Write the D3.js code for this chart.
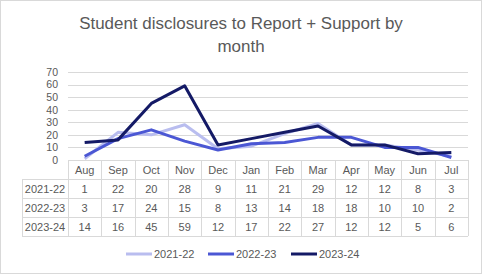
<!DOCTYPE html>
<html>
<head>
<meta charset="utf-8">
<script src="https://cdn.jsdelivr.net/npm/d3@7"></script>
<style>
  body { margin: 0; background: #fff; }
  svg { display: block; font-family: 'Liberation Sans', Arial, sans-serif; }
</style>
</head>
<body>
<div id="chart"></div>
<script>
let months = ['Aug', 'Sep', 'Oct', 'Nov', 'Dec', 'Jan', 'Feb', 'Mar', 'Apr', 'May', 'Jun', 'Jul'];
let seriesNames = ['2021-22', '2022-23', '2023-24'];
let values2122 = [1, 22, 20, 28, 9, 11, 21, 29, 12, 12, 8, 3];
let values2223 = [3, 17, 24, 15, 8, 13, 14, 18, 18, 10, 10, 2];
let values2324 = [14, 16, 45, 59, 12, 17, 22, 27, 12, 12, 5, 6];
let yTicks = [0, 10, 20, 30, 40, 50, 60, 70];

let colors = ['#b9bdef', '#4b57d4', '#141a66'];
let series = [values2122, values2223, values2324].map(function(v, i) {
    return { name: seriesNames[i], values: v, color: colors[i] };
});

let W = 482, H = 274;
let plotLeft = 68, plotRight = 468, plotTop = 72, plotBottom = 160;
let rowH = 19, labelLeft = 22;
let gridColor = '#d9d9d9', textColor = '#595959';

let svg = d3.select('#chart')
    .append('svg')
        .attr('width', W)
        .attr('height', H);

svg.append('rect')
    .attr('x', 0.5).attr('y', 0.5)
    .attr('width', W - 1).attr('height', H - 1)
    .attr('fill', '#fff')
    .attr('stroke', gridColor);

// title
let title = svg.append('text')
    .attr('text-anchor', 'middle')
    .attr('fill', textColor)
    .style('font-size', '18px');
title.append('tspan').attr('x', 241).attr('y', 29).text('Student disclosures to Report + Support by');
title.append('tspan').attr('x', 241).attr('y', 52).text('month');
// fit title width to reference
let tw = title.select('tspan').node().getComputedTextLength();
title.style('font-size', (18 * 324 / tw) + 'px');

let x = d3.scaleBand()
    .domain(months)
    .range([plotLeft, plotRight]);

let y = d3.scaleLinear()
    .domain([0, 70])
    .range([plotBottom, plotTop]);

// gridlines
svg.append('g')
    .selectAll('line')
    .data(yTicks)
    .enter()
    .append('line')
        .attr('x1', plotLeft).attr('x2', plotRight)
        .attr('y1', d => Math.round(y(d)) + 0.5)
        .attr('y2', d => Math.round(y(d)) + 0.5)
        .attr('stroke', gridColor);

let yAxis = d3.axisLeft(y)
    .tickValues(yTicks)
    .tickSize(0)
    .tickPadding(10);

svg.append('g')
    .attr('transform', 'translate(' + plotLeft + ',0)')
    .call(yAxis)
    .call(g => g.select('.domain').remove())
    .selectAll('text')
        .attr('fill', textColor)
        .style('font-size', '10.5px')
        .style('font-family', "'Liberation Sans', Arial, sans-serif");

// lines
let line = d3.line()
    .x((d, i) => x(months[i]) + x.bandwidth() / 2)
    .y(d => y(d));

svg.append('g')
    .selectAll('path')
    .data(series)
    .enter()
    .append('path')
        .attr('d', d => line(d.values))
        .attr('fill', 'none')
        .attr('stroke', d => d.color)
        .attr('stroke-width', 3)
        .attr('stroke-linejoin', 'round');

// data table
let table = svg.append('g');
let tableBottom = plotBottom + rowH * 4;

table.selectAll('.vline')
    .data(d3.range(months.length + 1))
    .enter()
    .append('line')
        .attr('x1', i => Math.round(plotLeft + i * x.bandwidth()) + 0.5)
        .attr('x2', i => Math.round(plotLeft + i * x.bandwidth()) + 0.5)
        .attr('y1', plotBottom)
        .attr('y2', tableBottom)
        .attr('stroke', gridColor);

table.append('line')
    .attr('x1', labelLeft + 0.5).attr('x2', labelLeft + 0.5)
    .attr('y1', plotBottom + rowH).attr('y2', tableBottom)
    .attr('stroke', gridColor);

table.selectAll('.hline')
    .data([1, 2, 3, 4])
    .enter()
    .append('line')
        .attr('x1', labelLeft).attr('x2', plotRight)
        .attr('y1', r => plotBottom + r * rowH + 0.5)
        .attr('y2', r => plotBottom + r * rowH + 0.5)
        .attr('stroke', gridColor);

table.selectAll('.month')
    .data(months)
    .enter()
    .append('text')
        .attr('x', d => x(d) + x.bandwidth() / 2)
        .attr('y', plotBottom + rowH / 2 + 4)
        .attr('text-anchor', 'middle')
        .attr('fill', textColor)
        .style('font-size', '11px')
        .text(d => d);

series.forEach(function(s, r) {
    let cy = plotBottom + (r + 1) * rowH + rowH / 2 + 4;
    table.append('text')
        .attr('x', (labelLeft + plotLeft) / 2)
        .attr('y', cy)
        .attr('text-anchor', 'middle')
        .attr('fill', textColor)
        .style('font-size', '11px')
        .text(s.name);
    table.selectAll('.v' + r)
        .data(s.values)
        .enter()
        .append('text')
            .attr('x', (d, i) => x(months[i]) + x.bandwidth() / 2)
            .attr('y', cy)
            .attr('text-anchor', 'middle')
            .attr('fill', textColor)
            .style('font-size', '11px')
            .text(d => d);
});

// legend
let legendX = [126, 208, 291];
let legend = svg.append('g')
    .selectAll('g')
    .data(series)
    .enter()
    .append('g')
        .attr('transform', (d, i) => 'translate(' + legendX[i] + ',254)');

legend.append('line')
    .attr('x1', 0).attr('x2', 26)
    .attr('stroke', d => d.color)
    .attr('stroke-width', 3);

legend.append('text')
    .attr('x', 28)
    .attr('y', 4)
    .attr('fill', textColor)
    .style('font-size', '11px')
    .text(d => d.name);
</script>
</body>
</html>
